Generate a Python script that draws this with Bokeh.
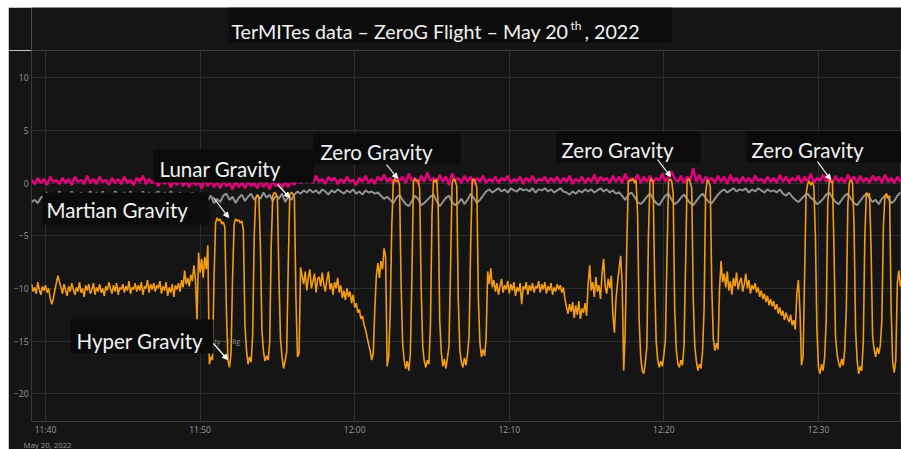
import numpy as np
import pandas as pd
from bokeh.plotting import figure
from bokeh.layouts import column, row
from bokeh.models import (Range1d, FixedTicker, DatetimeTickFormatter, Label,
                          BoxAnnotation, Arrow, NormalHead, Spacer, Title)
from bokeh.embed import file_html
from bokeh.resources import INLINE

# ---------------- data (minutes after 11:00) ----
BASE = pd.Timestamp("2022-05-20 11:00:00")

# orange series: rows of (start minute, samples every 0.1 min)
orange_rows = [
    (39.1, [-9.6, -10.3, -9.9, -10.5, -9.4, -10.1, -10.6, -9.8, -10.2]),
    (40.0, [-9.7, -10.4, -10.0, -10.9, -11.5, -11.0, -10.2, -9.5, -8.8, -9.4]),
    (41.0, [-9.9, -10.5, -9.6, -10.2, -10.7, -9.8, -10.3, -9.5, -10.1, -10.6]),
    (42.0, [-9.9, -10.3, -9.4, -10.4, -10.0, -10.8, -9.7, -10.2, -9.6, -10.5]),
    (43.0, [-10.1, -9.5, -10.6, -9.9, -10.3, -9.6, -10.4, -10.0, -10.7, -9.8]),
    (44.0, [-10.2, -9.4, -10.0, -10.5, -9.7, -10.3, -9.5, -10.6, -9.9, -10.1]),
    (45.0, [-9.6, -10.4, -9.8, -10.2, -9.3, -10.5, -9.9, -10.1, -9.5, -10.3]),
    (46.0, [-9.7, -10.2, -9.4, -10.6, -9.8, -10.0, -9.2, -10.4, -9.6, -10.1]),
    (47.0, [-9.5, -10.3, -9.7, -10.0, -9.3, -10.5, -9.8, -10.2, -9.4, -10.7]),
    (48.0, [-9.9, -10.4, -9.6, -10.8, -9.7, -10.1, -9.5, -10.3, -9.2, -9.9]),
    (49.0, [-8.3, -9.6, -9.0, -9.8, -8.7, -9.3, -7.8, -9.1, -13.0, -6.6]),
    (50.0, [-8.5, -7.2, -9.0, -7.0, -8.2, -5.9, -17.2, -16.5, -16.8, -9.0]),
    (51.0, [-3.8, -3.3, -3.6, -3.4, -3.9, -3.7, -4.2, -12.0, -16.8, -17.5]),
    (52.0, [-16.2, -9.0, -3.9, -3.4, -3.6, -3.5, -3.8, -3.6, -4.5, -13.5]),
    (53.0, [-15.8, -17.2, -16.5, -17.0, -14.5, -5.0, -1.4, -1.1, -1.3, -6.0]),
    (54.0, [-14.0, -16.0, -16.9, -16.4, -16.8, -15.2, -6.0, -1.2, -0.9, -1.0]),
    (55.0, [-1.3, -9.0, -14.8, -16.5, -17.6, -16.9, -16.0, -8.0, -1.1, -0.9]),
    (56.0, [-1.0, -1.4, -11.0, -16.5, -16.2, -8.0, -8.8, -9.6, -8.4, -10.2]),
    (57.0, [-9.0, -8.2, -10.0, -9.3, -8.6, -10.4, -9.1, -8.9, -9.8, -8.5]),
    (58.0, [-9.6, -10.3, -9.2, -8.4, -10.1, -9.5, -10.6, -9.4, -10.0, -9.0]),
    (59.0, [-10.4, -9.7, -10.9, -10.2, -11.1, -10.0, -10.8, -10.3, -11.4, -10.6]),
    (60.0, [-11.8, -11.4, -12.3, -12.0, -12.9, -12.6, -13.4, -13.9, -14.6, -15.3]),
    (61.0, [-15.9, -16.8, -16.2, -12.0, -8.8, -7.6, -9.0, -7.4, -8.2, -6.2]),
    (62.0, [-7.0, -17.4, -16.5, -12.0, -4.0, 0.2, 0.4, 0.1, 0.3, -0.2]),
    (63.0, [-9.5, -15.2, -16.8, -17.6, -16.9, -17.8, -16.2, -9.0, 0.1, 0.4]),
    (64.0, [0.2, 0.3, -0.5, -10.0, -15.5, -16.9, -17.5, -16.8, -17.2, -13.5]),
    (65.0, [-3.0, 0.3, 0.1, 0.4, -2.0, -13.0, -16.0, -17.4, -16.7, -17.6]),
    (66.0, [-16.6, -15.5, -8.0, 0.0, 0.4, 0.2, -0.3, -11.0, -15.8, -17.0]),
    (67.0, [-17.5, -16.6, -17.3, -16.2, -14.5, -6.0, 0.2, 0.4, 0.1, -0.4]),
    (68.0, [-11.0, -15.2, -16.5, -15.8, -16.4, -14.8, -8.4, -9.6, -8.1, -9.9]),
    (69.0, [-9.2, -10.3, -9.5, -10.6, -9.8, -9.1, -10.4, -9.7, -10.1, -9.3]),
    (70.0, [-10.5, -9.6, -10.2, -9.4, -10.7, -9.9, -10.3, -9.5, -11.5, -9.8]),
    (71.0, [-10.1, -9.4, -10.6, -9.7, -10.2, -9.5, -10.4, -9.8, -10.0, -9.3]),
    (72.0, [-10.4, -9.6, -10.1, -9.4, -10.5, -9.8, -10.2, -9.5, -10.6, -9.9]),
    (73.0, [-10.3, -9.6, -10.1, -9.7, -10.4, -9.9, -11.0, -11.8, -12.4, -11.5]),
    (74.0, [-12.2, -11.3, -12.8, -11.6, -12.5, -11.2, -12.9, -11.9, -12.3, -11.4]),
    (75.0, [-12.6, -9.6, -7.8, -10.2, -9.4, -10.8, -8.9, -10.3, -9.7, -11.0]),
    (76.0, [-8.6, -7.2, -9.8, -10.5, -9.1, -10.0, -8.8, -12.5, -14.2, -11.0]),
    (77.0, [-9.5, -8.2, -6.9, -9.5, -17.8, -14.0, -6.0, 0.1, 0.3, 0.2]),
    (78.0, [0.4, 0.0, 0.3, -3.0, -13.0, -16.5, -17.8, -18.1, -17.0, -15.5]),
    (79.0, [-5.0, 0.2, 0.4, 0.1, -9.0, -15.0, -16.8, -17.5, -16.9, -17.4]),
    (80.0, [-16.3, -14.8, -7.0, 0.1, 0.4, 0.2, -1.0, -12.0, -15.8, -17.1]),
    (81.0, [-17.5, -16.8, -17.3, -15.5, -8.0, 0.2, 0.4, 0.1, -0.5, -11.0]),
    (82.0, [-15.5, -16.9, -17.8, -17.2, -17.6, -16.0, -12.0, -1.0, 0.3, 0.1]),
    (83.0, [-0.3, -10.0, -14.8, -15.9, -15.2, -15.8, -10.0, -7.4, -9.4, -8.6]),
    (84.0, [-9.9, -8.4, -10.2, -9.3, -10.6, -9.0, -9.8, -8.5, -10.1, -9.4]),
    (85.0, [-9.0, -10.3, -9.6, -8.6, -10.0, -9.2, -10.5, -9.7, -10.1, -9.5]),
    (86.0, [-10.4, -9.9, -10.8, -10.2, -11.0, -10.5, -11.3, -10.7, -11.6, -11.0]),
    (87.0, [-11.7, -11.2, -12.0, -11.5, -12.4, -11.8, -12.6, -12.1, -13.0, -12.3]),
    (88.0, [-12.8, -13.2, -12.5, -13.5, -13.0, -13.9, -10.5, -9.2, -12.0, -17.3]),
    (89.0, [-16.5, -9.0, -1.0, -0.1, 0.2, -0.2, 0.1, -0.3, -5.0, -14.0]),
    (90.0, [-17.5, -18.1, -17.2, -17.8, -16.5, -13.0, -2.0, 0.3, 0.1, 0.2]),
    (91.0, [-6.0, -14.5, -16.2, -17.0, -17.5, -16.7, -17.3, -15.8, -12.0, -2.0]),
    (92.0, [0.1, 0.3, 0.0, -4.0, -14.0, -16.8, -18.1, -17.4, -17.8, -15.0]),
    (93.0, [-5.0, -0.9, -1.1, -1.0, -6.0, -14.5, -15.8, -16.5, -15.6, -16.2]),
    (94.0, [-15.4, -13.0, -4.0, -1.2, -1.0, -1.4, -1.2, -12.0, -17.0, -18.0]),
    (95.0, [-16.8, -9.5, -8.3, -9.8, -9.2]),
]

# grey series: rows of (start minute, samples every 0.2 min)
grey_rows = [
    (39.1, [-1.8, -1.6, -1.9, -1.4, -1.2, -0.9, -1.5, -1.1, -1.4, -0.8]),
    (41.1, [-1.3, -1.0, -1.5, -0.8, -1.2, -1.4, -0.9, -1.3, -1.1, -0.8]),
    (43.1, [-1.4, -0.9, -1.2, -0.8, -1.3, -1.0, -1.5, -0.8, -1.1, -1.3]),
    (45.1, [-0.9, -1.2, -0.8, -1.4, -1.0, -1.3, -0.8, -1.2, -0.9, -1.4]),
    (47.1, [-1.0, -0.8, -1.3, -0.9, -1.2, -0.8, -1.1, -1.4, -0.9, -1.2]),
    (49.1, [-1.0, -1.3, -0.9, -1.5, -1.2, -1.8, -1.4, -1.6, -1.2, -1.9]),
    (51.1, [-1.5, -1.8, -1.2, -1.0, -1.6, -1.3, -1.9, -1.4, -1.1, -1.7]),
    (53.1, [-1.3, -1.0, -1.6, -1.2, -1.5, -0.9, -1.4, -1.1, -1.7, -1.2]),
    (55.1, [-1.5, -1.0, -1.8, -1.3, -1.6, -1.1, -0.8, -1.0, -0.7, -0.9]),
    (57.1, [-0.6, -0.9, -0.7, -1.0, -0.6, -0.8, -1.1, -0.7, -0.9, -0.6]),
    (59.1, [-0.8, -1.0, -0.7, -0.9, -0.6, -1.0, -0.8, -1.1, -0.7, -0.9]),
    (61.1, [-0.8, -1.0, -0.9, -1.2, -1.5, -1.3, -1.6, -1.9, -1.4, -1.1]),
    (63.1, [-1.6, -2.0, -2.2, -1.7, -1.2, -1.5, -2.1, -1.9, -1.6, -1.3]),
    (65.1, [-1.1, -1.7, -2.2, -1.8, -1.4, -1.2, -1.8, -2.1, -1.9, -1.5]),
    (67.1, [-2.0, -1.6, -1.0, -1.4, -1.9, -1.6, -1.2, -0.8, -0.6, -0.9]),
    (69.1, [-0.7, -0.5, -0.8, -0.6, -0.9, -0.5, -0.7, -0.8, -0.5, -0.7]),
    (71.1, [-0.6, -0.8, -0.5, -0.9, -0.6, -0.7, -0.5, -0.8, -0.6, -0.9]),
    (73.1, [-0.7, -0.5, -0.8, -0.9, -1.1, -0.8, -1.0, -0.7, -0.9, -0.6]),
    (75.1, [-0.8, -0.6, -0.9, -0.7, -0.5, -0.8, -0.6, -0.9, -0.7, -1.0]),
    (77.1, [-0.9, -1.2, -1.6, -1.1, -0.9, -1.3, -1.8, -2.0, -1.7, -1.3]),
    (79.1, [-1.0, -1.5, -1.9, -2.1, -1.6, -1.2, -1.0, -1.6, -2.0, -1.8]),
    (81.1, [-1.4, -1.1, -1.5, -1.9, -2.1, -1.7, -1.3, -1.0, -1.4, -1.8]),
    (83.1, [-1.9, -1.5, -1.1, -0.8, -0.6, -0.9, -0.7, -0.5, -0.8, -0.6]),
    (85.1, [-0.7, -0.5, -0.9, -0.6, -0.8, -0.5, -0.7, -0.9, -0.6, -0.8]),
    (87.1, [-0.7, -0.9, -0.6, -1.0, -1.2, -0.9, -1.3, -1.6, -1.8, -1.5]),
    (89.1, [-1.2, -1.0, -1.4, -1.6, -2.0, -1.8, -1.5, -1.1, -0.9, -1.4]),
    (91.1, [-1.8, -2.0, -1.6, -1.2, -1.0, -1.5, -1.9, -2.1, -1.7, -1.3]),
    (93.1, [-1.0, -1.4, -1.8, -1.6, -2.0, -1.5, -1.2, -1.4, -1.9, -1.7]),
    (95.1, [-1.2, -0.9]),
]

# magenta series: rows of (start minute, samples every 0.2 min)
magenta_rows = [
    (39.1, [0.3, -0.1, 0.5, 0.0, 0.4, -0.2, 0.6, 0.1, 0.3, -0.1]),
    (41.1, [0.5, 0.0, 0.4, -0.2, 0.6, 0.1, 0.3, -0.1, 0.7, 0.0]),
    (43.1, [0.4, -0.1, 0.6, 0.1, 0.3, -0.2, 0.5, 0.0, 0.4, -0.1]),
    (45.1, [0.6, 0.0, 0.3, -0.2, 0.5, 0.1, 0.7, -0.1, 0.4, 0.0]),
    (47.1, [0.3, -0.3, 0.5, -0.1, 0.4, -0.4, 0.2, -0.2, 0.5, -0.3]),
    (49.1, [0.2, -0.4, 0.3, -0.2, 0.1, -0.5, 0.3, -0.3, 0.2, -0.4]),
    (51.1, [0.1, -0.5, 0.2, -0.3, 0.0, -0.6, 0.3, -0.4, 0.1, -0.5]),
    (53.1, [0.2, -0.3, 0.0, -0.5, 0.3, -0.4, 0.1, -0.6, 0.2, -0.3]),
    (55.1, [0.0, -0.5, 0.2, -0.4, 0.3, -0.2, 0.5, 0.0, 0.6, 0.1]),
    (57.1, [0.5, 0.0, 0.7, 0.1, 0.4, -0.1, 0.6, 0.2, 0.5, -0.1]),
    (59.1, [0.4, 0.0, 0.6, 0.1, 0.3, -0.2, 0.5, 0.1, 0.7, 0.0]),
    (61.1, [0.4, -0.1, 0.6, 0.2, 0.8, 0.1, 0.5, -0.1, 0.7, 0.2]),
    (63.1, [0.6, 0.0, 0.9, 0.2, 0.5, -0.1, 0.7, 0.1, 1.0, 0.2]),
    (65.1, [0.5, 0.0, 0.8, 0.1, 0.6, -0.2, 0.9, 0.2, 0.5, 0.0]),
    (67.1, [0.7, 0.1, 0.6, -0.1, 0.5, 0.1, 0.7, 0.0, 0.4, 0.1]),
    (69.1, [0.6, 0.0, 0.5, 0.2, 0.7, 0.0, 0.4, 0.1, 0.6, -0.1]),
    (71.1, [0.5, 0.1, 0.7, 0.0, 0.4, 0.2, 0.6, 0.0, 0.5, 0.1]),
    (73.1, [0.6, 0.0, 0.5, 0.1, 0.7, -0.1, 0.4, 0.1, 0.6, 0.0]),
    (75.1, [0.5, 0.1, 0.8, 0.0, 0.6, 0.2, 0.5, 0.0, 0.7, 0.1]),
    (77.1, [0.6, 0.0, 0.9, 0.1, 0.5, 0.2, 0.8, 0.0, 0.6, 0.1]),
    (79.1, [0.7, 0.0, 0.5, 0.2, 0.9, 0.1, 0.6, 1.1, 0.4, 0.1]),
    (81.1, [0.7, 0.0, 0.6, 0.2, 1.4, 0.1, 0.8, 0.0, 0.6, 0.2]),
    (83.1, [0.5, 0.0, 0.7, 0.1, 0.6, -0.1, 0.8, 0.1, 0.5, 0.0]),
    (85.1, [0.6, 0.1, 0.5, 0.0, 0.7, 0.2, 0.4, 0.0, 0.6, 0.1]),
    (87.1, [0.5, 0.0, 0.8, 0.1, 0.6, 0.0, 0.5, 0.2, 0.7, 0.0]),
    (89.1, [0.6, 0.1, 0.9, 0.0, 0.5, 0.2, 0.8, 0.1, 0.6, 0.0]),
    (91.1, [0.7, 0.1, 0.5, 0.0, 0.8, 0.2, 0.6, 0.0, 0.7, 0.1]),
    (93.1, [0.5, 0.0, 0.7, 0.2, 0.6, 0.0, 0.8, 0.1, 0.5, 0.0]),
    (95.1, [0.6, 0.1]),
]

tick_minutes = [40, 50, 60, 70, 80, 90]
y_ticks = [-20, -15, -10, -5, 0, 5, 10]
date_context = "May 20, 2022"

title_parts = ["TerMITes data \u2013 ZeroG Flight \u2013 May 20", "th", ", 2022"]
annotations = ["Lunar Gravity", "Zero Gravity", "Zero Gravity", "Zero Gravity",
               "Martian Gravity", "Hyper Gravity"]


def expand(rows, step):
    mins, vals = [], []
    for start, row_vals in rows:
        for j, v in enumerate(row_vals):
            mins.append(round(start + step * j, 3))
            vals.append(v)
    t = BASE + pd.to_timedelta(np.array(mins), unit="m")
    return t, vals


def ms(minute):
    return (BASE + pd.Timedelta(minutes=minute)).timestamp() * 1000.0


ox, oy = expand(orange_rows, 0.1)
gx, gy = expand(grey_rows, 0.2)
mx, my = expand(magenta_rows, 0.2)

BG = "#151515"
W = 893

# ---------------- title strip (page y 7..50, frame aligned with the chart) ---
TOP_H = 43
t = figure(width=W, height=TOP_H, x_range=Range1d(31, 901), y_range=Range1d(50, 7),
           output_backend="svg", toolbar_location=None,
           x_axis_location=None, y_axis_location=None, min_border=0,
           background_fill_color=BG, border_fill_color=BG, outline_line_color=None)
t.grid.visible = False

t.add_layout(BoxAnnotation(left=228, right=671, top=7, bottom=42,
                           fill_color="#0c0c0c", fill_alpha=1.0, line_color=None))
for txt, px, py, size, align in [(title_parts[0], 568, 31, "19.7px", "right"),
                                 (title_parts[1], 570, 25, "12px", "left"),
                                 (title_parts[2], 584, 31, "19.7px", "left")]:
    t.add_layout(Label(x=px, y=py, text=txt, text_font="Lato",
                       text_font_size=size, text_color="#f2f2f2",
                       text_align=align, text_baseline="alphabetic"))

# ---------------- main chart --------------------------------------------------
p = figure(width=W, height=399, x_axis_type="datetime",
           x_range=Range1d(ms(39.094), ms(95.37)),
           y_range=Range1d(-22.63, 12.58),
           output_backend="svg", toolbar_location=None,
           min_border_left=23, min_border_right=0, min_border_top=0,
           min_border_bottom=24,
           background_fill_color=BG, border_fill_color=BG,
           outline_line_color="#3a3a3a")

p.line(gx, gy, line_color="#929292", line_width=2.0)
p.line(mx, my, line_color="#e6007e", line_width=2.4)
p.line(ox, oy, line_color="#f39c12", line_width=1.6)

# axes
p.xaxis.ticker = FixedTicker(ticks=[ms(m) for m in tick_minutes])
p.xaxis.formatter = DatetimeTickFormatter(minutes="%H:%M", hours="%H:%M",
                                          minsec="%H:%M")
p.yaxis.ticker = FixedTicker(ticks=y_ticks)
for ax in (p.xaxis, p.yaxis):
    ax.axis_line_color = None
    ax.major_tick_line_color = None
    ax.minor_tick_line_color = None
    ax.major_tick_out = 0
    ax.major_tick_in = 0
    ax.minor_tick_out = 0
    ax.minor_tick_in = 0
    ax.major_label_text_color = "#9a9a9a"
    ax.major_label_text_font = "Open Sans"
    ax.major_label_text_font_size = "8.5px"
p.xaxis.major_label_standoff = 2
p.yaxis.major_label_standoff = 3
p.xgrid.grid_line_color = "#2e2e2e"
p.ygrid.grid_line_color = "#2e2e2e"

# date context below the first tick label
p.add_layout(Title(text=date_context, align="left", offset=-8, standoff=0,
                   text_font="Open Sans", text_font_size="7.8px",
                   text_font_style="normal", text_color="#9a9a9a"), "below")

# ---------------- annotation layout (page pixels -> frame screen units) ------
FL, FB = 31, 425


def sx(px):
    return px - FL


def sy(py):
    return FB - py


def box(x0, x1, y0, y1, color="#0b0b0b"):
    p.add_layout(BoxAnnotation(left=sx(x0), right=sx(x1), top=sy(y0), bottom=sy(y1),
                               left_units="screen", right_units="screen",
                               top_units="screen", bottom_units="screen",
                               fill_color=color, fill_alpha=1.0, line_color=None))


def label(text, px, py, size, color="#f2f2f2", font="Lato"):
    p.add_layout(Label(x=sx(px), y=sy(py), x_units="screen", y_units="screen",
                       text=text, text_font=font, text_font_size=size,
                       text_color=color, text_align="left",
                       text_baseline="alphabetic"))


box(153, 313, 153, 186)
box(313, 460, 137, 168)
box(556, 700, 135, 166)
box(746, 901, 135, 166)
box(42, 208, 196, 228)
box(70, 213, 323, 357)

label(annotations[0], 159, 172, "20.5px")
label(annotations[1], 320, 155, "20.5px")
label(annotations[2], 561, 153, "20.5px")
label(annotations[3], 751, 153, "20.5px")
label(annotations[4], 46, 213, "20.5px")
label(annotations[5], 76, 344, "20.5px")
label("ty ~1.8g", 214, 345, "7px", color="#8a8a8a", font="Open Sans")

for (x0, y0, x1, y1) in [(213, 201, 228, 221), (277, 188, 289, 201),
                         (386, 168, 397, 182), (657, 163, 670, 180),
                         (817, 165, 830, 183), (213, 347, 227, 363)]:
    p.add_layout(Arrow(x_start=sx(x0), y_start=sy(y0), x_end=sx(x1), y_end=sy(y1),
                       start_units="screen", end_units="screen",
                       line_color="white", line_width=1.2,
                       end=NormalHead(size=5, fill_color="white", line_color="white")))

page = column(Spacer(height=7), row(Spacer(width=8), column(t, p)))
open("out.html", "w").write(file_html(page, INLINE))
